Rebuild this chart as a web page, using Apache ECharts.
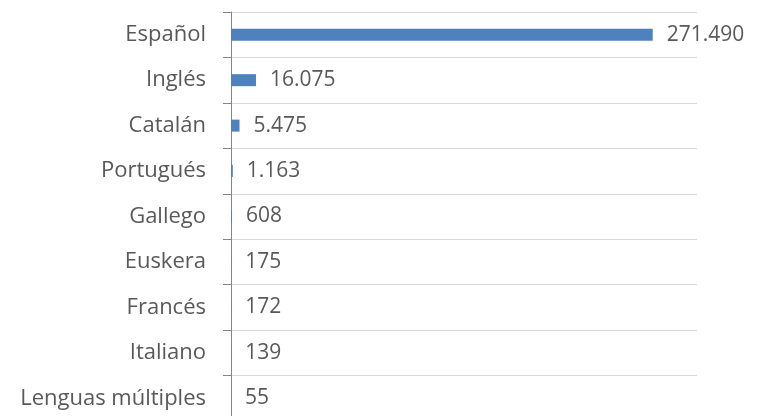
<!DOCTYPE html>
<html>
<head>
<meta charset="utf-8">
<script src="https://cdn.jsdelivr.net/npm/echarts@6/dist/echarts.min.js"></script>
<style>
  html, body { margin: 0; padding: 0; background: #fff; }
  #chart { width: 758px; height: 416px; }
</style>
</head>
<body>
<div id="chart"></div>
<script>
var languages = [
  "Español",
  "Inglés",
  "Catalán",
  "Portugués",
  "Gallego",
  "Euskera",
  "Francés",
  "Italiano",
  "Lenguas múltiples",
];
var titles = [271490, 16075, 5475, 1163, 608, 175, 172, 139, 55];
var axisMax = 300000;

// 271490 -> "271.490"
function formatNumber(v) {
  return String(v).replace(/\B(?=(\d{3})+(?!\d))/g, ".");
}

var myChart = echarts.init(document.getElementById("chart"));
var option = {
  animation: false,
  textStyle: {
    fontFamily: "Open Sans",
  },
  grid: {
    left: 231,
    right: 61,
    top: 12,
    bottom: -5,
    outerBoundsMode: "none",
    containLabel: false,
  },
  xAxis: {
    type: "value",
    min: 0,
    max: axisMax,
    axisLine: { show: false },
    axisTick: { show: false },
    axisLabel: { show: false },
    splitLine: { show: false },
  },
  yAxis: {
    type: "category",
    data: languages,
    inverse: true,
    axisLine: {
      show: true,
      lineStyle: { color: "#868686", width: 1 },
    },
    axisTick: {
      show: true,
      length: 8,
      lineStyle: { color: "#868686" },
    },
    axisLabel: {
      color: "#595959",
      fontSize: 22,
      margin: 25,
      fontFamily: "Open Sans",
    },
    splitLine: {
      show: true,
      lineStyle: { color: "#d9d9d9", width: 1 },
    },
  },
  series: [
    {
      type: "bar",
      data: titles,
      barWidth: 12,
      itemStyle: {
        color: "#4f81bd",
      },
      label: {
        show: true,
        position: "right",
        distance: 14,
        color: "#595959",
        fontSize: 21,
        fontFamily: "Open Sans",
        formatter: function (p) {
          return formatNumber(p.value);
        },
      },
    },
  ],
};

option && myChart.setOption(option);
</script>
</body>
</html>
